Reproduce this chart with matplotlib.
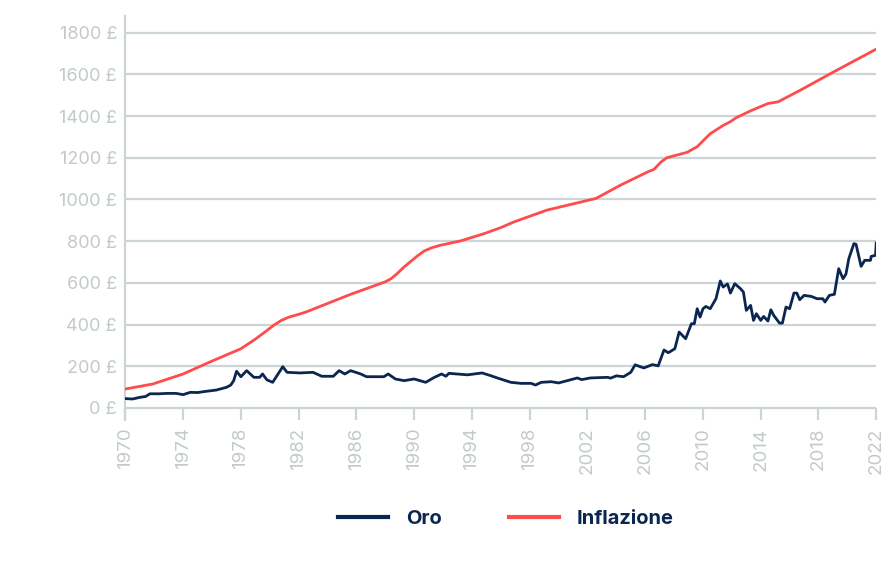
import matplotlib
matplotlib.use("Agg")
import matplotlib.pyplot as plt

plt.rcParams['font.family'] = ['Inter', 'DejaVu Sans']

# Oro (prezzo in £)
oro_anni = [1970.0, 1970.5, 1971.0, 1971.4, 1971.7, 1972.3, 1972.9, 1973.5, 1974.0, 1974.5,
            1975.0, 1975.6, 1976.3, 1977.0, 1977.3, 1977.5, 1977.7, 1978.0, 1978.4, 1978.9,
            1979.3, 1979.5, 1979.8, 1980.2, 1980.5, 1980.9, 1981.2, 1982.1, 1983.0, 1983.6,
            1984.4, 1984.8, 1985.2, 1985.6, 1986.3, 1986.7, 1987.9, 1988.2, 1988.7, 1989.3,
            1990.0, 1990.8, 1991.4, 1991.9, 1992.2, 1992.4, 1993.7, 1994.7, 1995.3, 1995.8,
            1996.7, 1997.4, 1998.1, 1998.4, 1998.8, 1999.5, 2000.0, 2000.6, 2001.3, 2001.6,
            2002.2, 2003.4, 2003.6, 2004.0, 2004.5, 2005.0, 2005.3, 2005.9, 2006.5, 2006.9,
            2007.3, 2007.6, 2008.05, 2008.35, 2008.8, 2009.2, 2009.4, 2009.6, 2009.8, 2010.0,
            2010.2, 2010.5, 2010.9, 2011.2, 2011.4, 2011.7, 2011.9, 2012.2, 2012.6, 2012.8,
            2013.0, 2013.2, 2013.3, 2013.5, 2013.7, 2014.0, 2014.2, 2014.5, 2014.7, 2014.9,
            2015.3, 2015.5, 2015.75, 2016.0, 2016.3, 2016.5, 2016.7, 2017.0, 2017.5, 2017.9,
            2018.3, 2018.45, 2018.75, 2019.1, 2019.4, 2019.7, 2019.9, 2020.1, 2020.45, 2020.6,
            2020.95, 2021.2, 2021.6, 2021.65, 2021.95, 2022.0]
oro_valori = [45, 43, 51, 55, 68, 68, 70, 70, 64, 75,
              74, 80, 86, 99, 110, 131, 176, 150, 179, 147,
              147, 163, 135, 123, 155, 198, 171, 168, 171, 152,
              152, 179, 163, 179, 163, 150, 150, 163, 139, 131,
              139, 123, 147, 163, 152, 166, 159, 168, 155, 143,
              123, 118, 118, 110, 123, 126, 120, 131, 144, 136,
              144, 147, 143, 154, 150, 171, 207, 192, 208, 202,
              278, 265, 284, 364, 332, 404, 404, 476, 436, 476,
              487, 476, 524, 609, 580, 595, 551, 596, 572, 556,
              468, 484, 492, 420, 452, 420, 439, 417, 471, 444,
              407, 407, 484, 476, 551, 551, 519, 540, 535, 524,
              524, 508, 540, 545, 668, 620, 642, 716, 788, 785,
              679, 708, 708, 727, 732, 791]

# Inflazione (valore in £)
infl_anni = [1970.0, 1971.9, 1974.0, 1975.8, 1978.0, 1979.0, 1979.7, 1980.3, 1980.8, 1981.3,
             1981.9, 1982.5, 1985.6, 1988.0, 1988.4, 1988.8, 1989.3, 1990.2, 1990.7, 1991.2,
             1991.8, 1993.2, 1994.8, 1996.0, 1996.9, 1999.2, 2002.6, 2004.3, 2006.2, 2006.6,
             2007.1, 2007.5, 2008.2, 2008.9, 2009.6, 2010.5, 2011.4, 2011.9, 2012.3, 2013.3,
             2014.5, 2015.2, 2016.8, 2018.9, 2022.0]
infl_valori = [91, 115, 163, 219, 284, 330, 366, 398, 420, 435,
               447, 460, 545, 605, 620, 643, 676, 728, 753, 768,
               780, 801, 835, 865, 892, 949, 1005, 1069, 1133, 1144,
               1180, 1200, 1213, 1226, 1253, 1315, 1355, 1373, 1392, 1425,
               1460, 1468, 1526, 1606, 1721]

anni_tick = list(range(1970, 2023, 4))
valori_tick = list(range(0, 1801, 200))

grigio = "#cdd4d5"
testo_grigio = "#c3cacc"
blu = "#0b2650"
rosso = "#ff4b4b"

fig = plt.figure(figsize=(8.86, 5.69), dpi=100)
ax = fig.add_axes([0.1415, 0.261, 0.8475, 0.711])

ax.plot(oro_anni, oro_valori, color=blu, lw=2.0, label="Oro", zorder=3)
ax.plot(infl_anni, infl_valori, color=rosso, lw=2.0, label="Inflazione", zorder=3)

ax.set_xlim(1970, 2022)
ax.set_ylim(-60, 1880)
ax.set_yticks(valori_tick)
ax.set_yticklabels([f"{v} £" for v in valori_tick])
ax.set_xticks(anni_tick)
ax.set_xticklabels([str(a) for a in anni_tick], rotation=90)

for v in valori_tick:
    ax.axhline(v, color=grigio, lw=1.6, zorder=1)

for s in ["top", "right", "bottom"]:
    ax.spines[s].set_visible(False)
ax.spines["left"].set_color(grigio)
ax.spines["left"].set_linewidth(1.6)

ax.tick_params(axis="y", length=0, pad=6, labelsize=13, labelcolor=testo_grigio)
ax.tick_params(axis="x", direction="in", length=9, width=1.6, color=grigio,
               pad=5, labelsize=13.5, labelcolor=testo_grigio)

leg = fig.legend(loc="center", bbox_to_anchor=(0.571, 0.088), ncol=2, frameon=False,
                 handlelength=2.5, handletextpad=0.9, columnspacing=3.3,
                 prop={"weight": "bold", "size": 14.5})
for t in leg.get_texts():
    t.set_color(blu)
for h in leg.get_lines():
    h.set_linewidth(3)

fig.savefig("out.png", dpi=100)
